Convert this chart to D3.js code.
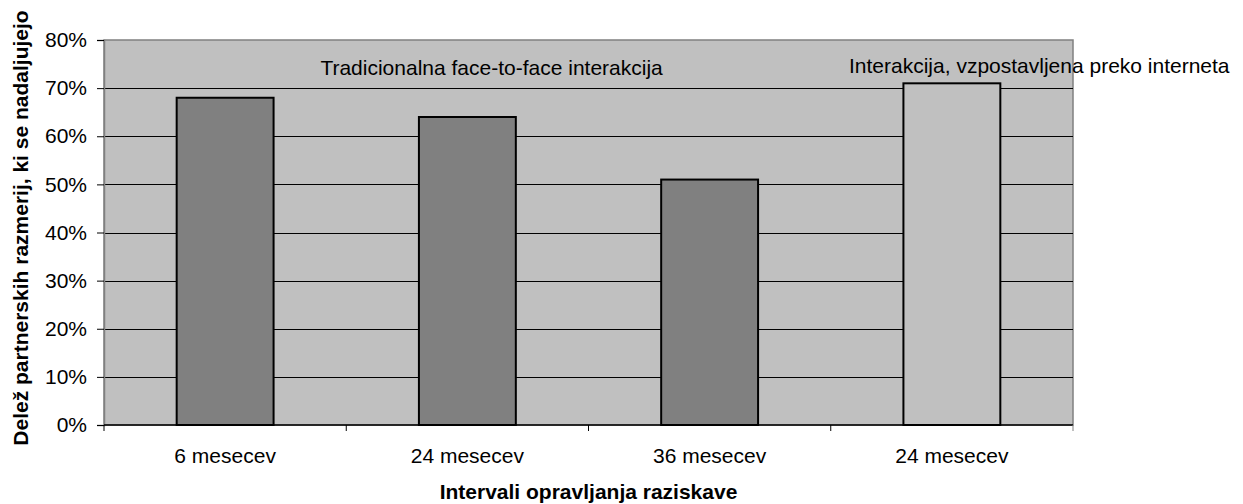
<!DOCTYPE html>
<html>
<head>
<meta charset="utf-8">
<script src="https://cdn.jsdelivr.net/npm/d3@7"></script>
<style>
  body { margin: 0; background: #fff; }
  text { font-family: "Liberation Sans", Arial, sans-serif; }
</style>
</head>
<body>
<div id="chart"></div>
<script>
const categories = ['6 mesecev', '24 mesecev', '36 mesecev', '24 mesecev '];
const values = [0.68, 0.64, 0.51, 0.71];
const groups = ['trad', 'trad', 'trad', 'net'];
const groupLabels = ['Tradicionalna face-to-face interakcija', 'Interakcija, vzpostavljena preko interneta'];
const yTicks = [0, 0.1, 0.2, 0.3, 0.4, 0.5, 0.6, 0.7, 0.8];

document.addEventListener('DOMContentLoaded', function () {
    const w = 1243,
        h = 504,
        fs = 21;
    const m = { top: 40, right: 170, bottom: 79, left: 104 };

    const svg = d3.select('#chart')
        .append('svg')
        .attr('width', w)
        .attr('height', h);

    const x = d3.scaleBand()
        .domain(categories)
        .range([m.left, w - m.right])
        .paddingInner(0.6)
        .paddingOuter(0.3);

    const y = d3.scaleLinear()
        .domain([0, 0.8])
        .range([h - m.bottom, m.top]);

    // plot background
    svg.append('rect')
        .attr('x', m.left)
        .attr('y', m.top)
        .attr('width', w - m.left - m.right)
        .attr('height', h - m.top - m.bottom)
        .attr('fill', '#c0c0c0')
        .attr('stroke', '#808080')
        .attr('stroke-width', 1.5);

    // gridlines
    svg.selectAll('line.grid')
        .data(yTicks.filter(d => d > 0 && d < 0.8))
        .enter()
        .append('line')
        .attr('class', 'grid')
        .attr('x1', m.left)
        .attr('x2', w - m.right)
        .attr('y1', d => Math.round(y(d)) + 0.5)
        .attr('y2', d => Math.round(y(d)) + 0.5)
        .attr('stroke', '#000')
        .attr('stroke-width', 1);

    // bars
    svg.selectAll('rect.bar')
        .data(values)
        .enter()
        .append('rect')
        .attr('class', 'bar')
        .attr('x', (d, i) => x(categories[i]))
        .attr('y', d => y(d))
        .attr('width', x.bandwidth())
        .attr('height', d => y(0) - y(d))
        .attr('fill', (d, i) => groups[i] === 'trad' ? '#808080' : '#c0c0c0')
        .attr('stroke', '#000')
        .attr('stroke-width', 2);

    // y axis
    const yAxis = d3.axisLeft(y)
        .tickValues(yTicks)
        .tickFormat(d3.format('.0%'))
        .tickSize(7)
        .tickPadding(10);
    const gy = svg.append('g')
        .attr('transform', `translate(${m.left},0)`)
        .call(yAxis);
    gy.select('.domain').attr('stroke', '#808080').attr('stroke-width', 1.5);
    gy.selectAll('.tick line').attr('stroke', '#000');
    gy.selectAll('.tick text')
        .attr('font-size', fs)
        .attr('fill', '#000')
        .style('font-family', '"Liberation Sans", Arial, sans-serif');

    // x axis with ticks between categories
    const xb = d3.scaleLinear().domain([0, categories.length]).range([m.left, w - m.right]);
    const gx = svg.append('g')
        .attr('transform', `translate(0,${h - m.bottom})`);
    gx.append('line')
        .attr('x1', m.left).attr('x2', w - m.right)
        .attr('stroke', '#000').attr('stroke-width', 1.5);
    gx.selectAll('line.xt')
        .data(d3.range(categories.length + 1))
        .enter()
        .append('line')
        .attr('class', 'xt')
        .attr('x1', d => xb(d)).attr('x2', d => xb(d))
        .attr('y1', 0).attr('y2', 6)
        .attr('stroke', (d, i) => i === categories.length ? '#808080' : '#000');
    gx.selectAll('text')
        .data(categories)
        .enter()
        .append('text')
        .attr('x', d => x(d) + x.bandwidth() / 2)
        .attr('y', 38)
        .attr('text-anchor', 'middle')
        .attr('font-size', fs)
        .text(d => d.trim());

    // group labels
    svg.append('text')
        .attr('x', xb(1.6))
        .attr('y', 75)
        .attr('text-anchor', 'middle')
        .attr('font-size', fs)
        .text(groupLabels[0]);
    svg.append('text')
        .attr('x', 849)
        .attr('y', 73)
        .attr('font-size', fs)
        .text(groupLabels[1]);

    // axis titles
    svg.append('text')
        .attr('x', (m.left + w - m.right) / 2)
        .attr('y', 499)
        .attr('text-anchor', 'middle')
        .attr('font-size', fs)
        .attr('font-weight', 'bold')
        .text('Intervali opravljanja raziskave');
    svg.append('text')
        .attr('transform', 'translate(28,228) rotate(-90)')
        .attr('text-anchor', 'middle')
        .attr('font-size', fs)
        .attr('font-weight', 'bold')
        .text('Delež partnerskih razmerij, ki se nadaljujejo');
});
</script>
</body>
</html>
